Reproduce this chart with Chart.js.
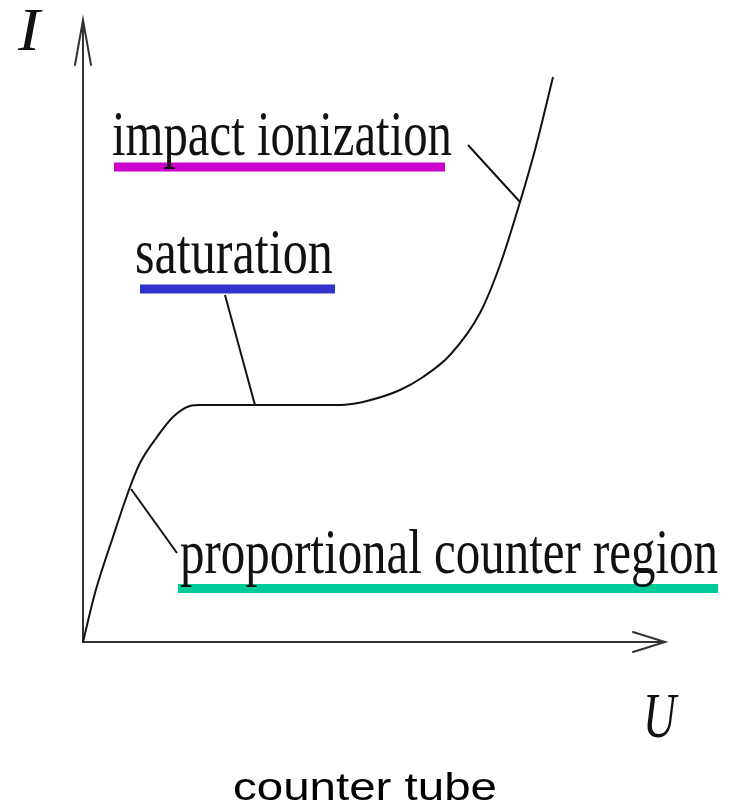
<!DOCTYPE html>
<html>
<head>
<meta charset="utf-8">
<script src="https://cdn.jsdelivr.net/npm/chart.js@4/dist/chart.umd.min.js"></script>
<style>
  html, body { margin: 0; padding: 0; background: #fff; }
  #wrap { width: 734px; height: 808px; position: relative; }
</style>
</head>
<body>
<div id="wrap"><canvas id="c"></canvas></div>
<script>
// ---- data (U, I in arbitrary units 0..100) ----
const curveU = [0, 2.06, 5.15, 8.08, 9.79, 12.71, 15.46, 18.38, 20.10, 42.00, 45.00, 48.80, 54.47, 58.42, 63.06, 68.21, 71.65, 75.09, 77.66, 80.76];
const curveI = [0, 7.88, 16.88, 24.92, 28.78, 32.96, 36.17, 37.94, 38.10, 38.10, 38.15, 38.75, 40.51, 42.60, 46.14, 52.89, 60.61, 70.74, 79.10, 90.84];

const regionNames = ['impact ionization', 'saturation', 'proportional counter region'];
// leader lines: from label end to the point on the curve
const leaderU = [[66.15, 75.09], [24.40, 29.55], [16.15, 8.25]];
const leaderI = [[79.90, 70.74], [55.79, 38.10], [14.31, 24.60]];
// label anchor (left, baseline) and underline span
const labelU = [4.98, 8.93, 16.67];
const labelI = [78.30, 59.32, 11.09];
const underlineU = [[5.33, 62.20], [9.79, 43.30], [16.32, 109.1]];
const underlineI = [76.37, 56.75, 8.60];

const axisNames = ['U', 'I'];
const chartTitle = 'counter tube';

// ---- styles ----
const underlineColors = ['#cc00cc', '#3333cc', '#00cc99'];
const labelWidths = [340, 198, 538];

const datasets = [];
datasets.push({
  data: curveU.map((u, k) => ({ x: u, y: curveI[k] })),
  borderColor: '#111', borderWidth: 2, pointRadius: 0,
  showLine: true, cubicInterpolationMode: 'monotone', fill: false, clip: false
});
leaderU.forEach((lu, k) => {
  datasets.push({
    data: lu.map((u, j) => ({ x: u, y: leaderI[k][j] })),
    borderColor: '#111', borderWidth: 2, pointRadius: 0, showLine: true, clip: false
  });
});
underlineU.forEach((uu, k) => {
  datasets.push({
    data: uu.map(u => ({ x: u, y: underlineI[k] })),
    borderColor: underlineColors[k], borderWidth: 9, borderCapStyle: 'butt',
    pointRadius: 0, showLine: true, clip: false
  });
});

function stretchText(ctx, str, font, x, baseline, width) {
  ctx.save();
  ctx.font = font;
  ctx.textAlign = 'left';
  ctx.textBaseline = 'alphabetic';
  const m = ctx.measureText(str).width;
  ctx.translate(x, baseline);
  ctx.scale(width / m, 1);
  ctx.fillText(str, 0, 0);
  ctx.restore();
}

const diagramPlugin = {
  id: 'diagram',
  beforeDatasetsDraw(chart) {
    const { ctx, chartArea: a } = chart;
    ctx.save();
    ctx.strokeStyle = '#333';
    ctx.lineWidth = 2;
    ctx.lineCap = 'round';
    ctx.beginPath();
    ctx.moveTo(a.left, a.top);
    ctx.lineTo(a.left, a.bottom);
    ctx.lineTo(a.right, a.bottom);
    ctx.stroke();
    ctx.beginPath();
    ctx.moveTo(a.right - 32, a.bottom - 10);
    ctx.lineTo(a.right, a.bottom);
    ctx.lineTo(a.right - 32, a.bottom + 10);
    ctx.stroke();
    ctx.beginPath();
    ctx.moveTo(a.left - 8, a.top + 45);
    ctx.lineTo(a.left, a.top);
    ctx.lineTo(a.left + 8, a.top + 45);
    ctx.stroke();
    ctx.restore();
  },
  afterDraw(chart) {
    const { ctx, chartArea: a, scales } = chart;
    const sx = scales.x, sy = scales.y;
    ctx.save();
    ctx.fillStyle = '#111';
    regionNames.forEach((t, k) => {
      stretchText(ctx, t, '64px "Liberation Serif", "DejaVu Serif", serif',
        sx.getPixelForValue(labelU[k]), sy.getPixelForValue(labelI[k]), labelWidths[k]);
    });
    stretchText(ctx, axisNames[1], 'italic 62px "Liberation Serif", serif', a.left - 65, a.top + 30, 22);
    stretchText(ctx, axisNames[0], 'italic 64px "Liberation Serif", serif', a.right - 22, a.bottom + 95, 33);
    ctx.fillStyle = '#000';
    stretchText(ctx, chartTitle, '39px "Liberation Sans", Arial, sans-serif', 233, 800, 264);
    ctx.restore();
  }
};

new Chart(document.getElementById('c'), {
  type: 'scatter',
  data: { datasets },
  options: {
    responsive: true,
    maintainAspectRatio: false,
    animation: false,
    layout: { padding: { left: 83, right: 69, top: 20, bottom: 166 } },
    scales: {
      x: { type: 'linear', min: 0, max: 100, display: false },
      y: { type: 'linear', min: 0, max: 100, display: false }
    },
    plugins: { legend: { display: false }, tooltip: { enabled: false }, title: { display: false } }
  },
  plugins: [diagramPlugin]
});
</script>
</body>
</html>
